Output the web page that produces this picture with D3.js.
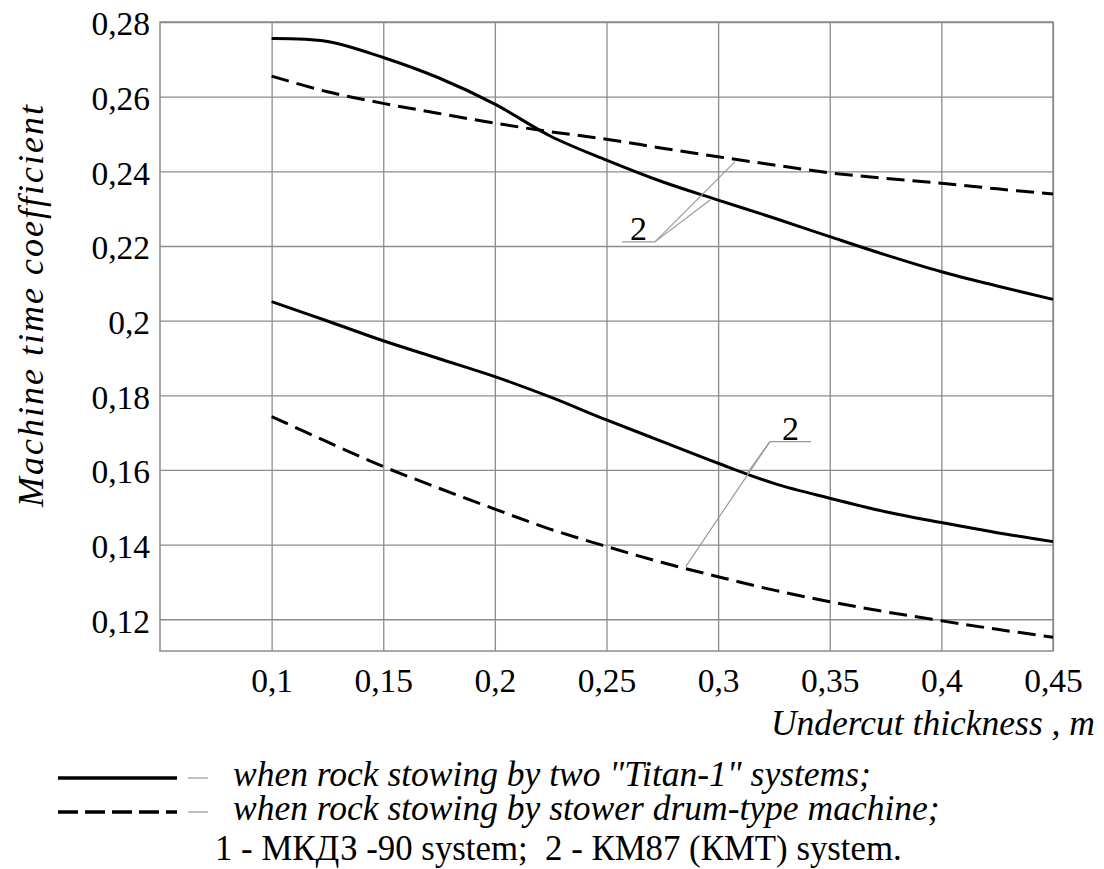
<!DOCTYPE html>
<html>
<head>
<meta charset="utf-8">
<script src="https://cdn.jsdelivr.net/npm/d3@7"></script>
<style>
  html, body { margin: 0; padding: 0; background: #fff; }
  svg { display: block; }
</style>
</head>
<body>
<svg id="chart" width="1104" height="869" style="font-family: 'Liberation Serif'"></svg>
<script>
// ---- Data ----
const xValues = [0.1, 0.125, 0.15, 0.175, 0.2, 0.225, 0.25, 0.275, 0.3, 0.325, 0.35, 0.375, 0.4, 0.425, 0.45];
const titanUpper = [0.2756, 0.2748, 0.2705, 0.2650, 0.2580, 0.2494, 0.2430, 0.2372, 0.2323, 0.2275, 0.2225, 0.2176, 0.2131, 0.2093, 0.2057];
const drumUpper  = [0.2655, 0.2613, 0.2582, 0.2555, 0.2529, 0.2506, 0.2486, 0.2462, 0.2439, 0.2417, 0.2396, 0.2381, 0.2368, 0.2353, 0.2339];
const titanLower = [0.2051, 0.1999, 0.1946, 0.1898, 0.1850, 0.1795, 0.1734, 0.1676, 0.1618, 0.1564, 0.1524, 0.1488, 0.1459, 0.1432, 0.1408];
const drumLower  = [0.1743, 0.1675, 0.1609, 0.1551, 0.1495, 0.1441, 0.1395, 0.1352, 0.1314, 0.1278, 0.1247, 0.1220, 0.1196, 0.1173, 0.1152];

const xTicks = [0.1, 0.15, 0.2, 0.25, 0.3, 0.35, 0.4, 0.45];
const xTickLabels = ["0,1", "0,15", "0,2", "0,25", "0,3", "0,35", "0,4", "0,45"];
const yTicks = [0.12, 0.14, 0.16, 0.18, 0.2, 0.22, 0.24, 0.26, 0.28];
const yTickLabels = ["0,12", "0,14", "0,16", "0,18", "0,2", "0,22", "0,24", "0,26", "0,28"];

const xTitle = "Undercut thickness , m";
const yTitle = "Machine time coefficient";
const legendLabels = ["when rock stowing by two \"Titan-1\" systems;", "when rock stowing by stower drum-type machine;"];
const footnote = "1 - МКДЗ -90 system;  2 - КМ87 (КМТ) system.";

// annotation "2" labels: underline span, leader targets (data coords)
const annotations = [
  { label: "2", ux0: 0.257, ux1: 0.2717, uy: 0.2211, from: "end",
    targets: [[0.3076, 0.2426], [0.2964, 0.2323]] },
  { label: "2", ux0: 0.3232, ux1: 0.3416, uy: 0.1676, from: "start",
    targets: [[0.313, 0.1591], [0.2855, 0.1341]] }
];

// ---- Layout ----
const svg = d3.select("#chart");
const mLeft = 160, mRight = 1053, mTop = 22, mBottom = 651;

const x = d3.scaleLinear().domain([0.05, 0.45]).range([mLeft, mRight]);
const y = d3.scaleLinear().domain([0.1115, 0.28]).range([mBottom, mTop]);

const gridColor = "#8c8c8c";

function txt(sel, size, italic) {
  return sel.attr("font-family", "Liberation Serif")
    .style("font-family", '"Liberation Serif"')
    .style("font-size", size + "px")
    .style("font-style", italic ? "italic" : "normal").style("fill", "#000");
}

// grid via axes
const xAxis = d3.axisBottom(x).tickValues(xTicks)
  .tickFormat((d, i) => xTickLabels[i]).tickSize(-(mBottom - mTop)).tickPadding(17);
const gx = svg.append("g").attr("transform", `translate(0,${mBottom})`).call(xAxis);
gx.attr("font-family", null);
gx.select(".domain").remove();
gx.selectAll(".tick line").attr("stroke", gridColor).attr("stroke-width", 1.3);
txt(gx.selectAll(".tick text"), 33.5, false);

const yAxis = d3.axisLeft(y).tickValues(yTicks)
  .tickFormat((d, i) => yTickLabels[i]).tickSize(-(mRight - mLeft)).tickPadding(10);
const gy = svg.append("g").attr("transform", `translate(${mLeft},0)`).call(yAxis);
gy.attr("font-family", null);
gy.select(".domain").remove();
gy.selectAll(".tick line").attr("stroke", gridColor).attr("stroke-width", 1.3);
txt(gy.selectAll(".tick text"), 33.5, false).attr("dy", "0.38em");

// frame
svg.append("rect").attr("x", mLeft).attr("y", mTop).attr("width", mRight - mLeft).attr("height", mBottom - mTop)
  .attr("fill", "none").attr("stroke", gridColor).attr("stroke-width", 1.5);

// curves
const line = d3.line().x(d => x(d[0])).y(d => y(d[1])).curve(d3.curveCatmullRom.alpha(0.5));
const series = [
  { values: titanUpper, dash: null },
  { values: drumUpper, dash: "18,8" },
  { values: titanLower, dash: null },
  { values: drumLower, dash: "18,8" }
];
series.forEach(s => {
  svg.append("path")
    .datum(xValues.map((xv, i) => [xv, s.values[i]]))
    .attr("d", line)
    .attr("fill", "none")
    .attr("stroke", "#000")
    .attr("stroke-width", 3)
    .attr("stroke-dasharray", s.dash);
});

// annotations
annotations.forEach(a => {
  const x0 = x(a.ux0), x1 = x(a.ux1), yy = y(a.uy);
  const ox = a.from === "end" ? x1 : x0;
  svg.append("line").attr("x1", x0).attr("x2", x1).attr("y1", yy).attr("y2", yy)
    .attr("stroke", "#9a9a9a").attr("stroke-width", 1.3);
  a.targets.forEach(t => {
    svg.append("line").attr("x1", ox).attr("y1", yy).attr("x2", x(t[0])).attr("y2", y(t[1]))
      .attr("stroke", "#9a9a9a").attr("stroke-width", 1.2);
  });
  txt(svg.append("text").attr("x", (x0 + x1) / 2).attr("y", yy - 2)
    .attr("text-anchor", "middle"), 34, false).text(a.label);
});

// axis titles
txt(svg.append("text").attr("x", 1095).attr("y", 735).attr("text-anchor", "end"), 35.5, true).text(xTitle);
txt(svg.append("text").attr("transform", "translate(43,305) rotate(-90)")
  .attr("text-anchor", "middle"), 36, true).style("letter-spacing", "2px").text(yTitle);

// legend
const legY = [778, 812];
legendLabels.forEach((lab, i) => {
  svg.append("line").attr("x1", 58).attr("x2", 177).attr("y1", legY[i]).attr("y2", legY[i])
    .attr("stroke", "#000").attr("stroke-width", 3.5)
    .attr("stroke-dasharray", i === 1 ? "20,7" : null);
  svg.append("line").attr("x1", 188).attr("x2", 208).attr("y1", legY[i]).attr("y2", legY[i])
    .attr("stroke", "#aaa").attr("stroke-width", 1.5);
  txt(svg.append("text").attr("x", 233).attr("y", legY[i] + 8), 35.5, true).text(lab);
});
txt(svg.append("text").attr("x", 215).attr("y", 860), 34.8, false).style("white-space", "pre").text(footnote);
</script>
</body>
</html>
